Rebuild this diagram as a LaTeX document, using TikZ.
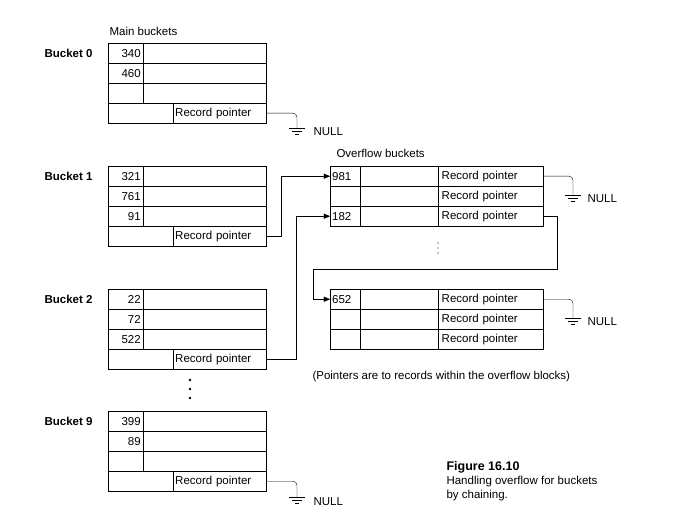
\documentclass[tikz,border=0pt]{standalone}
\usepackage{fontspec}
\setmainfont{Liberation Sans}
\usetikzlibrary{positioning,arrows}
\begin{document}
\begin{tikzpicture}
		[x=1pt,y=-1pt,
		cell/.style ={rectangle, draw=black, thin, inner sep=0pt, minimum height=20pt, anchor=north west, font=\fontsize{11.5}{13}\selectfont},
		num/.style ={cell, minimum width=35pt, align=right, text width=30pt},
		wide/.style ={cell, minimum width=123pt},
		gap/.style ={cell, minimum width=65pt},
		rp/.style ={cell, minimum width=93pt, align=left, text width=89pt},
		onum/.style ={num, minimum width=30pt, text width=26pt, align=left},
		omid/.style ={cell, minimum width=78pt},
		orp/.style ={cell, minimum width=105pt, align=left, text width=98pt},
		lbl/.style ={anchor=west, font=\fontsize{11.5}{13}\selectfont},
		bname/.style ={anchor=west, font=\fontsize{11.5}{13}\selectfont\bfseries},
		line/.style ={draw, thin, -triangle 45, shorten >=0pt},
		gnd/.style ={draw, thin, rounded corners=4pt},
		]
		\useasboundingbox (0,0) rectangle (675,516);

		% main buckets
		\node[lbl] (MB) at (106,31) {Main buckets};
		\foreach \b/\y/\p/\q/\r in {0/43/340/460/,1/166/321/761/91,2/289/22/72/522,9/411/399/89/}{
			\node[bname] (B\b) at (41,\y+10) {Bucket \b};
			\node[num] (N\b a) at (108,\y) {\p};
			\node[wide] (W\b a) at (143,\y) {};
			\node[num] (N\b b) at (108,\y+20) {\q};
			\node[wide] (W\b b) at (143,\y+20) {};
			\node[num] (N\b c) at (108,\y+40) {\r};
			\node[wide] (W\b c) at (143,\y+40) {};
			\node[gap] (G\b) at (108,\y+60) {};
			\node[rp] (P\b) at (173,\y+60) {Record pointer};
		}
		\foreach \d in {380,389,398}
			\fill (190,\d) circle (1.3pt);

		% overflow buckets
		\node[lbl] (OB) at (333,153) {Overflow buckets};
		\foreach \o/\y/\n in {1/166/981,2/186/,3/206/182,4/289/652,5/309/,6/329/}{
			\node[onum] (O\o) at (330,\y) {\n};
			\node[omid] (M\o) at (360,\y) {};
			\node[orp] (R\o) at (438,\y) {Record pointer};
		}
		\foreach \d in {243,248,253}
			\fill (438,\d) circle (0.6pt);

		% NULL grounds
		\coordinate (g0) at (297,128);
		\coordinate (g9) at (297,497);
		\coordinate (g1) at (573,195);
		\coordinate (g4) at (573,318);
		\draw[gnd] (P0.east) -| (g0);
		\draw[gnd] (P9.east) -| (g9);
		\draw[gnd] (R1.east) -| (g1);
		\draw[gnd] (R4.east) -| (g4);
		\foreach \g in {g0,g9,g1,g4}{
			\draw[thin] ([xshift=-8pt]\g) -- ([xshift=8pt]\g);
			\draw[thin] ([xshift=-5pt,yshift=-3pt]\g) -- ([xshift=5pt,yshift=-3pt]\g);
			\draw[thin] ([xshift=-2pt,yshift=-6pt]\g) -- ([xshift=2pt,yshift=-6pt]\g);
		}
		\node[lbl] (NULL0) at (310,132) {NULL};
		\node[lbl] (NULL9) at (310,502) {NULL};
		\node[lbl] (NULL1) at (584,199) {NULL};
		\node[lbl] (NULL4) at (584,322) {NULL};

		% chain pointers
		\draw[line] (P1.east) -- ++(15,0) |- (O1.west);
		\draw[line] (P2.east) -- ++(30,0) |- (O3.west);
		\draw[line] (R3.east) -- ++(14,0) -- ++(0,53) -| ([xshift=-17pt]O4.west) -- (O4.west);

		% notes
		\node[lbl] (NOTE) at (309,377) {(Pointers are to records within the overflow blocks)};
		\node[lbl, align=left, anchor=north west, font=\fontsize{11.5}{14}\selectfont] (FIG) at (443,458)
			{\textbf{\fontsize{12.5}{14}\selectfont Figure 16.10}\\Handling overflow for buckets\\by chaining.};
	\end{tikzpicture}
\end{document}
